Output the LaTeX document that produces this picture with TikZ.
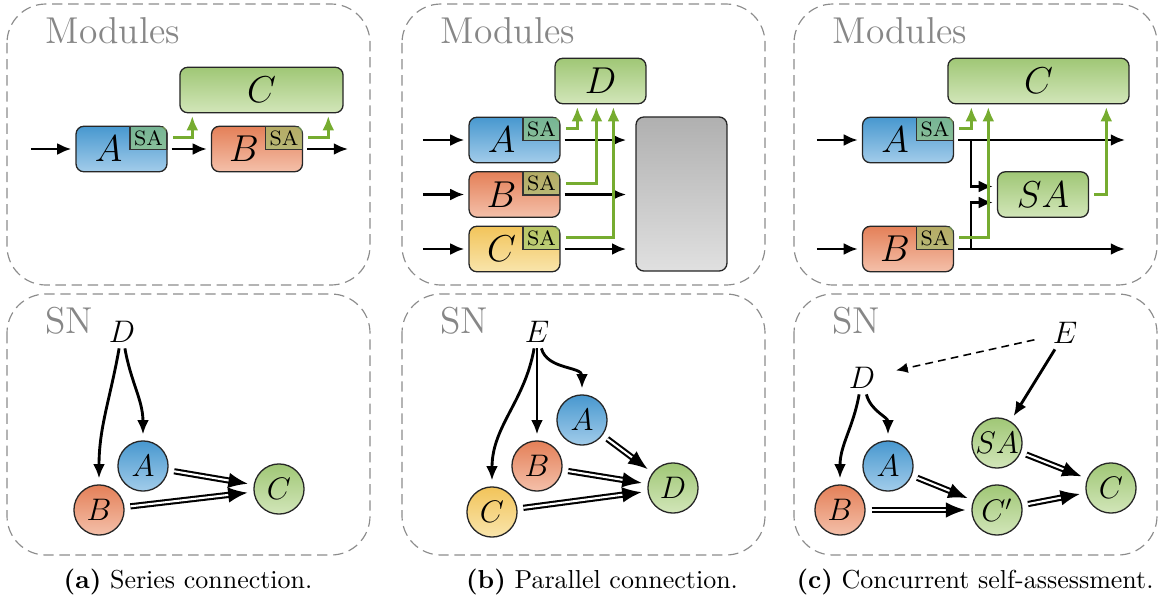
\documentclass[tikz,border=0pt]{standalone}
\usepackage{amsmath}
\usepackage{tikz}
\usetikzlibrary{positioning, arrows.meta, calc}

\definecolor{blueTop}{RGB}{72,152,207}
\definecolor{blueBot}{RGB}{162,204,234}
\definecolor{redTop}{RGB}{228,128,88}
\definecolor{redBot}{RGB}{244,192,170}
\definecolor{yellowTop}{RGB}{242,196,90}
\definecolor{yellowBot}{RGB}{249,229,172}
\definecolor{greenTop}{RGB}{160,199,118}
\definecolor{greenBot}{RGB}{210,230,185}
\definecolor{grayTop}{RGB}{176,176,176}
\definecolor{grayBot}{RGB}{224,224,224}
\definecolor{saGreen}{RGB}{150,200,110}
\definecolor{lineGreen}{RGB}{118,172,48}
\definecolor{frameGray}{RGB}{140,140,140}
\definecolor{titleGray}{RGB}{135,135,135}

\tikzset{
    panel/.style={draw=frameGray, line width=0.45pt, dash pattern=on 4pt off 2.2pt, rounded corners=15pt},
    title/.style={text=titleGray, font=\Large, anchor=base west, inner sep=0pt},
    module/.style={draw=black!85, line width=0.5pt, rounded corners=3pt, minimum width=35pt,
        minimum height=17.5pt, inner sep=0pt, font=\Large},
    fillblue/.style={top color=blueTop, bottom color=blueBot},
    fillred/.style={top color=redTop, bottom color=redBot},
    fillyellow/.style={top color=yellowTop, bottom color=yellowBot},
    fillgreen/.style={top color=greenTop, bottom color=greenBot},
    fillgray/.style={top color=grayTop, bottom color=grayBot},
    sa/.style={draw=black!80, line width=0.5pt, fill=saGreen, fill opacity=0.6, text opacity=1,
        minimum width=14.2pt, minimum height=8.9pt, inner sep=0pt, font=\fontsize{8}{9}\selectfont},
    dep/.style={line width=1.1pt, -{Latex[length=5.5pt,width=4.6pt]}},
    sig/.style={dep, shorten <=1.5pt, shorten >=1.5pt},
    sasig/.style={draw=lineGreen, line width=1.1pt, -{Latex[length=5.5pt,width=4.6pt]},
        shorten <=2pt, shorten >=1pt},
    infl/.style={double, double distance=0.8pt, line width=0.8pt, -{Latex[length=7.5pt,width=6pt]}},
    sn/.style={circle, draw=black!85, line width=0.5pt, minimum size=19.3pt, inner sep=0pt,
        outer sep=2.5pt, font=\large},
    lbl/.style={inner sep=2pt, font=\large},
    caption/.style={inner sep=0pt}
}

% SA corner of a module
\def\sabox#1#2{%
    \begin{scope}
        \clip[rounded corners=3pt] (#2.south west) rectangle (#2.north east);
        \node[sa, anchor=north east] (#1) at (#2.north east) {SA};
    \end{scope}
}

\begin{document}
\begin{tikzpicture}[x=0.385pt, y=-0.385pt]
    \useasboundingbox (0,0) rectangle (1161,604);

    % frames
    \foreach \x in {7,402,794}
    {
        \draw[panel] (\x,4) rectangle ++(363,281);
        \draw[panel] (\x,294) rectangle ++(363,261);
        \node[title] (mod\x) at (\x+38,43) {Modules};
        \node[title] (sn\x) at (\x+38,333) {SN};
    }

    % (a) modules
    \node[module, fillgreen, minimum width=62.8pt] (aC) at (261.5,90) {$C$};
    \node[module, fillblue] (aA) at (121.5,149) {$A$\kern10pt};
    \node[module, fillred] (aB) at (257,149) {$B$\kern10pt};
    \sabox{aAsa}{aA}
    \sabox{aBsa}{aB}

    \coordinate (aIn) at (27,149);
    \coordinate (aOut) at (352,149);
    \draw[sig] (aIn) -- (aA);
    \draw[sig] (aA) -- (aB);
    \draw[sig] (aB) -- (aOut);

    \draw[sasig] (aAsa) -| ($(aC.south west)+(13,0)$);
    \draw[sasig] (aBsa) -| ($(aC.south west)+(149,0)$);

    % (b) modules
    \node[module, fillgreen] (bD) at (600.5,81) {$D$};
    \node[module, fillblue] (bA) at (514.5,140) {$A$\kern10pt};
    \node[module, fillred] (bB) at (514.5,194.5) {$B$\kern10pt};
    \node[module, fillyellow] (bC) at (514.5,249) {$C$\kern10pt};
    \node[module, fillgray, minimum height=59.3pt] (bOut) at (681.5,194) {};
    \sabox{bAsa}{bA}
    \sabox{bBsa}{bB}
    \sabox{bCsa}{bC}

    \foreach \m/\y in {bA/140, bB/194.5, bC/249}
    {
        \coordinate (\m-in) at (419,\y);
        \draw[sig] (\m-in) -- (\m);
        \draw[sig, shorten >=3.5pt] (\m) -- (\m.east -| bOut.west);
    }

    \foreach \s/\d in {bAsa/23, bBsa/42, bCsa/59}
    {
        \draw[sasig] (\s) -| ($(bD.south west)+(\d,0)$);
    }

    % (c) modules
    \node[module, fillgreen, minimum width=69.7pt] (cC) at (1038.5,81) {$C$};
    \node[module, fillblue] (cA) at (908,140) {$A$\kern10pt};
    \node[module, fillred] (cB) at (908,249) {$B$\kern10pt};
    \node[module, fillgreen] (cSA) at (1043,194.5) {$SA$};
    \sabox{cAsa}{cA}
    \sabox{cBsa}{cB}

    \coordinate (cA-in) at (813,140);
    \coordinate (cB-in) at (813,249);
    \coordinate (cA-out) at (1129,140);
    \coordinate (cB-out) at (1129,249);
    \coordinate (cjA) at (971,140);
    \coordinate (cjB) at (971,249);
    \foreach \m in {cA, cB}
    {
        \draw[sig] (\m-in) -- (\m);
        \draw[sig] (\m) -- (\m-out);
    }
    \draw[sig, shorten <=0pt] (cjA) |- ($(cSA.west)+(0,-8)$);
    \draw[sig, shorten <=0pt] (cjB) |- ($(cSA.west)+(0,8)$);

    \draw[sasig] (cAsa) -| ($(cC.south west)+(24,0)$);
    \draw[sasig] (cBsa) -| ($(cC.south west)+(41,0)$);
    \draw[sasig] (cSA) -| ($(cC.south west)+(159,0)$);

    % (a) SN
    \node[lbl] (snaD) at (122,332) {$D$};
    \node[sn, fillblue] (snaA) at (143,466) {$A$};
    \node[sn, fillred] (snaB) at (99,510) {$B$};
    \node[sn, fillgreen] (snaC) at (279,489) {$C$};
    \draw[dep] (snaD) to[out=-80, in=90] (snaA);
    \draw[dep] (snaD) to[out=-100, in=90] (snaB);
    \foreach \s in {snaA, snaB}
        \draw[infl] (\s) -- (snaC);

    % (b) SN
    \node[lbl] (snbE) at (537,332) {$E$};
    \node[sn, fillblue] (snbA) at (582,420) {$A$};
    \node[sn, fillred] (snbB) at (537,466) {$B$};
    \node[sn, fillyellow] (snbC) at (492,512) {$C$};
    \node[sn, fillgreen] (snbD) at (673,488) {$D$};
    \draw[dep] (snbE) to[out=-75, in=90] (snbA);
    \draw[dep] (snbE) -- (snbB);
    \draw[dep] (snbE) to[out=-100, in=90] (snbC);
    \foreach \s in {snbA, snbB, snbC}
        \draw[infl] (\s) -- (snbD);

    % (c) SN
    \node[lbl] (sncE) at (1065,333) {$E$};
    \node[lbl] (sncD) at (862,378) {$D$};
    \node[sn, fillgreen] (sncSA) at (997,443) {$SA$};
    \node[sn, fillblue] (sncA) at (888,466) {$A$};
    \node[sn, fillred] (sncB) at (840,510) {$B$};
    \node[sn, fillgreen] (sncCp) at (997,510) {$C'$};
    \node[sn, fillgreen] (sncC) at (1111,488) {$C$};
    \draw[line width=0.6pt, dash pattern=on 3pt off 2pt, -{Latex[length=4.5pt,width=4pt]},
        shorten <=5pt, shorten >=6pt] (sncE) -- (sncD);
    \draw[dep] (sncE) -- (sncSA);
    \draw[dep] (sncD) to[out=-75, in=90] (sncA);
    \draw[dep] (sncD) to[out=-100, in=90] (sncB);
    \foreach \s/\t in {sncA/sncCp, sncB/sncCp, sncSA/sncC, sncCp/sncC}
        \draw[infl] (\s) -- (\t);

    % captions
    \node[caption] (capA) at (188,582) {\textbf{(a)} Series connection.};
    \node[caption] (capB) at (602,582) {\textbf{(b)} Parallel connection.};
    \node[caption] (capC) at (975,582) {\textbf{(c)} Concurrent self-assessment.};
\end{tikzpicture}
\end{document}
